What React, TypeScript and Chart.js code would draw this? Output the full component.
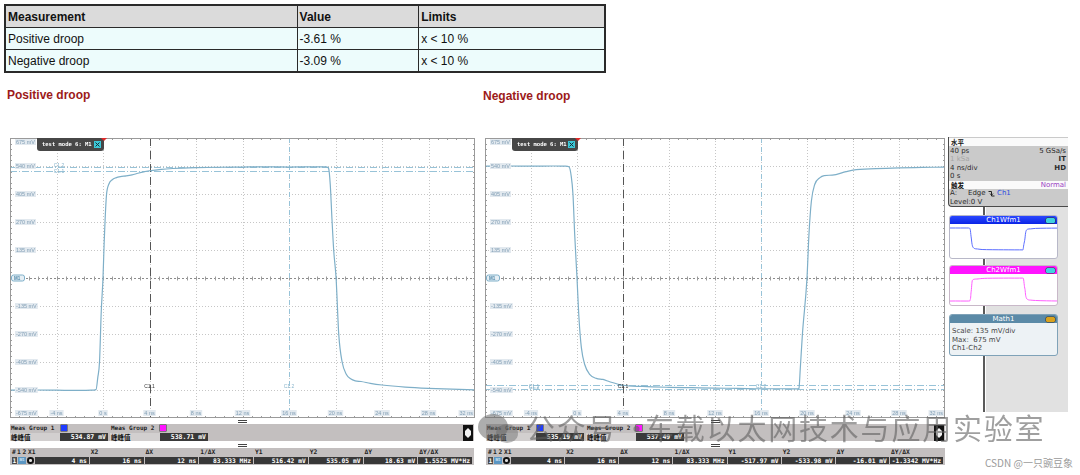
import React, { useEffect, useRef } from 'react';
import { Chart, registerables } from 'chart.js';

Chart.register(...registerables);

// ---------------- table data ----------------
const tableHeaders = ['Measurement', 'Value', 'Limits'];
const measurementNames = ['Positive droop', 'Negative droop'];
const measurementValues = ['-3.61 %', '-3.09 %'];
const measurementLimits = ['x < 10 %', 'x < 10 %'];

// ---------------- scope axes ----------------
const timeGridNs = [-8, -4, 0, 4, 8, 12, 16, 20, 24, 28, 32];
const timeTickLabels = ['', '-4 ns', '0 s', '4 ns', '8 ns', '12 ns', '16 ns', '20 ns', '24 ns', '28 ns', '32 ns'];
const voltGridMv = [675, 540, 405, 270, 135, 0, -135, -270, -405, -540, -675];
const voltTickLabels = ['675 mV', '540 mV', '405 mV', '270 mV', '135 mV', '', '-135 mV', '-270 mV', '-405 mV', '-540 mV', '-675 mV'];

// ---------------- positive droop trace ----------------
const posTimeNs = [-8, -6, -4, -2, -1, -0.6, -0.45, -0.3, -0.15, 0, 0.1, 0.18, 0.3, 0.5, 0.8, 1.1, 1.5, 2.0, 2.5, 3.0, 3.5, 4.0, 5, 6, 8, 10, 12, 14, 16, 18, 19.2, 19.4, 19.55, 19.7, 19.85, 20.05, 20.28, 20.57, 20.94, 21.3, 21.7, 22.2, 23, 24, 26, 28, 30, 32];
const posVoltMv = [-541, -540, -541, -542, -541, -538, -480, -405, -160, 0, 170, 280, 400, 452, 474, 483, 489, 492, 497, 505, 512, 517, 524, 528, 532, 534, 535, 536, 535, 536, 536, 530, 450, 280, 130, 0, -272, -405, -465, -486, -496, -499, -508, -516, -526, -532, -536, -539];

// ---------------- negative droop trace ----------------
const negTimeNs = [-8, -6, -4, -2, -1, -0.7, -0.5, -0.35, -0.2, 0, 0.17, 0.38, 0.67, 1.1, 1.68, 2.26, 2.84, 4.0, 5.7, 8, 10, 12, 14, 16, 18, 19.2, 19.3, 19.42, 19.6, 20.0, 20.17, 20.38, 20.67, 21.1, 21.5, 22.2, 23.4, 24, 26, 28, 30, 32];
const negVoltMv = [539, 540, 539, 540, 539, 536, 490, 403, 210, 0, -192, -336, -417, -465, -484, -489, -500, -517, -523, -527, -529, -531, -532, -534, -534, -535, -532, -433, -272, 0, 210, 370, 451, 483, 494, 496, 513, 520, 527, 531, 533, 535];

// ---------------- cursors ----------------
const cursorXNs = [4, 16];
const posCursorYMv = [516.42, 535.05];
const negCursorYMv = [-517.97, -533.98];

// ---------------- measurement bars ----------------
const measGroupNames = ['Meas Group 1', 'Meas Group 2'];
const measTypeLabels = ['峰峰值', '峰峰值'];
const posMeasValues = ['534.87 mV', '538.71 mV'];
const negMeasValues = ['535.19 mV', '537.49 mV'];
const cursorHeaders = ['X1', 'X2', 'ΔX', '1/ΔX', 'Y1', 'Y2', 'ΔY', 'ΔY/ΔX'];
const posCursorValues = ['4 ns', '16 ns', '12 ns', '83.333 MHz', '516.42 mV', '535.05 mV', '18.63 mV', '1.5525 MV*Hz'];
const negCursorValues = ['4 ns', '16 ns', '12 ns', '83.333 MHz', '-517.97 mV', '-533.98 mV', '-16.01 mV', '-1.3342 MV*Hz'];

const TRACE = '#7eafc8';
const LABEL_FONT = '"Liberation Sans", Arial, sans-serif';

function scopePlugin(cursorYMv: number[]) {
  return {
    id: 'scopeDecor',
    beforeDatasetsDraw(chart: any) {
      const { ctx, chartArea: a, scales } = chart;
      const xs = scales.x;
      const ys = scales.y;
      const X = (t: number) => Math.round(xs.getPixelForValue(t)) + 0.5;
      const Y = (v: number) => Math.round(ys.getPixelForValue(v)) + 0.5;
      const line = (x1: number, y1: number, x2: number, y2: number) => {
        ctx.beginPath();
        ctx.moveTo(x1, y1);
        ctx.lineTo(x2, y2);
        ctx.stroke();
      };
      ctx.save();
      ctx.lineWidth = 1;
      ctx.setLineDash([1, 2]);
      ctx.strokeStyle = '#c6c6c6';
      timeGridNs.forEach((t) => {
        if (t === timeGridNs[0] || t === timeGridNs[timeGridNs.length - 1]) return;
        line(X(t), a.top, X(t), a.bottom);
      });
      voltGridMv.forEach((v) => {
        if (v === 0 || v === voltGridMv[0] || v === voltGridMv[voltGridMv.length - 1]) return;
        line(a.left, Y(v), a.right, Y(v));
      });
      ctx.strokeStyle = '#8c8c8c';
      ctx.setLineDash([2, 2]);
      line(a.left, Y(0), a.right, Y(0));
      ctx.setLineDash([]);
      ctx.strokeStyle = '#9c9c9c';
      const y0 = Y(0);
      for (let i = 0; i <= 50; i++) {
        const px = X(-8 + i * 0.8);
        line(px, a.top, px, a.top + 2);
        line(px, a.bottom - 2, px, a.bottom);
        line(px, y0 - 2, px, y0 + 2);
      }
      for (let j = 0; j <= 50; j++) {
        const py = Y(-675 + j * 27);
        line(a.left, py, a.left + 2, py);
        line(a.right - 2, py, a.right, py);
      }
      ctx.strokeStyle = '#98c3d8';
      ctx.setLineDash([7, 2, 1, 2]);
      cursorYMv.forEach((v) => line(a.left, Y(v), a.right, Y(v)));
      ctx.setLineDash([5, 4]);
      line(X(cursorXNs[1]), a.top, X(cursorXNs[1]), a.bottom);
      ctx.strokeStyle = '#555555';
      ctx.setLineDash([8, 5]);
      line(X(cursorXNs[0]), a.top, X(cursorXNs[0]), a.bottom);
      ctx.restore();
    },
    afterDatasetsDraw(chart: any) {
      const { ctx, chartArea: a, scales } = chart;
      const xs = scales.x;
      const ys = scales.y;
      ctx.save();
      ctx.strokeStyle = '#9a9a9a';
      ctx.lineWidth = 1;
      ctx.strokeRect(a.left + 0.5, a.top + 0.5, a.right - a.left - 1, a.bottom - a.top - 1);

      ctx.font = `5.5px ${LABEL_FONT}`;
      ctx.textBaseline = 'middle';
      ctx.textAlign = 'left';
      voltGridMv.forEach((v, i) => {
        const lab = voltTickLabels[i];
        if (!lab) return;
        let py = ys.getPixelForValue(v);
        py = Math.min(Math.max(py, a.top + 4), a.bottom - 5);
        const w = ctx.measureText(lab).width;
        const lx = a.left + 6;
        ctx.fillStyle = '#e2e9ef';
        ctx.fillRect(lx - 1, py - 3, w + 2, 6);
        ctx.fillStyle = '#84a0b6';
        ctx.fillText(lab, lx, py);
      });
      timeGridNs.forEach((t, i) => {
        const lab = timeTickLabels[i];
        if (!lab) return;
        const w = ctx.measureText(lab).width;
        const py = a.bottom - 5;
        let lx = xs.getPixelForValue(t) - w / 2;
        if (lx + w > a.right - 2) lx = a.right - 2 - w;
        ctx.fillStyle = '#e2e9ef';
        ctx.fillRect(lx - 1, py - 3, w + 2, 6);
        ctx.fillStyle = '#84a0b6';
        ctx.fillText(lab, lx, py);
      });

      const y0 = ys.getPixelForValue(0);
      ctx.fillStyle = '#e6eff5';
      ctx.strokeStyle = TRACE;
      ctx.beginPath();
      ctx.roundRect(a.left + 1.5, y0 - 3, 13, 6, 2);
      ctx.fill();
      ctx.stroke();
      ctx.fillStyle = '#4c86a8';
      ctx.font = `bold 4.5px ${LABEL_FONT}`;
      ctx.fillText('M1', a.left + 4, y0 + 0.3);

      ctx.font = `5px ${LABEL_FONT}`;
      ctx.textAlign = 'center';
      const cy = a.bottom - 31;
      ctx.fillStyle = '#333333';
      ctx.fillText('C1.1', xs.getPixelForValue(cursorXNs[0]), cy);
      ctx.fillStyle = '#8bb6cc';
      ctx.fillText('C1.2', xs.getPixelForValue(cursorXNs[1]), cy);
      ctx.fillText('C1.1', a.left + 49, ys.getPixelForValue(cursorYMv[0]) + 1);
      ctx.fillText('C1.2', a.left + 49, ys.getPixelForValue(cursorYMv[1]) - 1);

      const x0 = xs.getPixelForValue(0);
      const tabL = a.left + 27;
      const tabR = x0 + 1;
      const tabT = a.top;
      ctx.fillStyle = '#474747';
      ctx.beginPath();
      ctx.roundRect(tabL, tabT, tabR - tabL, 13, [0, 0, 3, 3]);
      ctx.fill();
      ctx.fillStyle = '#ffffff';
      ctx.textAlign = 'left';
      ctx.font = 'bold 5.5px "DejaVu Sans Mono", monospace';
      ctx.fillText('test mode 6: M1', tabL + 5, tabT + 6.5);
      ctx.fillStyle = '#3cc8d8';
      ctx.fillRect(tabR - 10, tabT + 3, 7, 7);
      ctx.strokeStyle = '#15303a';
      ctx.lineWidth = 1;
      ctx.beginPath();
      ctx.moveTo(tabR - 8.5, tabT + 4.5);
      ctx.lineTo(tabR - 4.5, tabT + 8.5);
      ctx.moveTo(tabR - 4.5, tabT + 4.5);
      ctx.lineTo(tabR - 8.5, tabT + 8.5);
      ctx.stroke();
      ctx.fillStyle = '#e02a2a';
      ctx.beginPath();
      ctx.moveTo(x0 - 2, a.top);
      ctx.lineTo(x0 + 4, a.top);
      ctx.lineTo(x0 + 1, a.top + 3);
      ctx.closePath();
      ctx.fill();
      ctx.restore();
    },
  };
}

type ScopeProps = {
  left: number;
  top: number;
  width: number;
  height: number;
  times: number[];
  values: number[];
  cursorY: number[];
};

function ScopeChart({ left, top, width, height, times, values, cursorY }: ScopeProps) {
  const ref = useRef<HTMLCanvasElement>(null);
  useEffect(() => {
    const chart = new Chart(ref.current as HTMLCanvasElement, {
      type: 'line',
      data: {
        datasets: [
          {
            data: times.map((t, i) => ({ x: t, y: values[i] })),
            borderColor: TRACE,
            borderWidth: 1.2,
            pointRadius: 0,
            cubicInterpolationMode: 'monotone',
            fill: false,
          },
        ],
      },
      options: {
        responsive: false,
        animation: false,
        events: [],
        layout: { padding: 0 },
        plugins: { legend: { display: false }, tooltip: { enabled: false } },
        scales: {
          x: { type: 'linear', min: -8, max: 32, display: false },
          y: { type: 'linear', min: -675, max: 675, display: false },
        },
      },
      plugins: [scopePlugin(cursorY)],
    } as any);
    return () => chart.destroy();
  }, []);
  return <canvas ref={ref} width={width} height={height} style={{ position: 'absolute', left, top, width, height }} />;
}

function ThumbChart({ left, top, width, height, times, values, color, yMin, yMax }: any) {
  const ref = useRef<HTMLCanvasElement>(null);
  useEffect(() => {
    const chart = new Chart(ref.current as HTMLCanvasElement, {
      type: 'line',
      data: {
        datasets: [
          {
            data: times.map((t: number, i: number) => ({ x: t, y: values[i] })),
            borderColor: color,
            borderWidth: 1,
            pointRadius: 0,
            cubicInterpolationMode: 'monotone',
          },
        ],
      },
      options: {
        responsive: false,
        animation: false,
        events: [],
        layout: { padding: 0 },
        plugins: { legend: { display: false }, tooltip: { enabled: false } },
        scales: {
          x: { type: 'linear', min: -8, max: 32, display: false },
          y: { type: 'linear', min: yMin, max: yMax, display: false },
        },
      },
    } as any);
    return () => chart.destroy();
  }, []);
  return <canvas ref={ref} width={width} height={height} style={{ position: 'absolute', left, top, width, height }} />;
}

const abs = (s: React.CSSProperties): React.CSSProperties => ({ position: 'absolute', whiteSpace: 'nowrap', ...s });

function Handle({ cx, top }: { cx: number; top: number }) {
  return (
    <>
      <div style={abs({ left: cx - 4, top, width: 9, height: 1, background: '#444' })} />
      <div style={abs({ left: cx - 4, top: top + 2, width: 9, height: 1, background: '#444' })} />
    </>
  );
}

function MeasBar({ left, width, values }: { left: number; width: number; values: string[] }) {
  const sq = ['#1f3cff', '#ff14ff'];
  return (
    <div style={abs({ left, top: 424, width, height: 17, background: '#c3bfbf' })}>
      {values.map((v, i) => (
        <React.Fragment key={i}>
          <div style={abs({ left: 1 + i * 100, top: 0, font: 'bold 6px "DejaVu Sans Mono", monospace', color: '#1e1e1e', lineHeight: '8px' })}>
            {measGroupNames[i]}
          </div>
          <div style={abs({ left: 51 + i * 99, top: 1, width: 6, height: 6, background: sq[i], boxShadow: '0 0 0 0.5px #333' })} />
          <div style={abs({ left: i * 100, top: 9, width: 50, height: 8, background: '#d2cfcf' })} />
          <div style={abs({ left: 1 + i * 100, top: 9, font: 'bold 6.5px "Noto Sans CJK SC", sans-serif', color: '#111', lineHeight: '8px' })}>
            {measTypeLabels[i]}
          </div>
          <div
            style={abs({
              left: 50 + i * 100,
              top: 9,
              width: 48,
              height: 8,
              background: '#3a3a3a',
              color: '#fff',
              font: 'bold 6.5px "DejaVu Sans Mono", monospace',
              lineHeight: '8px',
              textAlign: 'right',
              paddingRight: 2,
              boxSizing: 'border-box',
            })}
          >
            {v}
          </div>
        </React.Fragment>
      ))}
      <div style={abs({ left: width - 11, top: 1, width: 10, height: 16, background: '#111' })}>
        <div style={abs({ left: 2, top: 3, width: 6, height: 10, background: '#f2f2f2', borderRadius: 2, clipPath: 'polygon(50% 0,100% 30%,100% 70%,50% 100%,0 70%,0 30%)' })} />
      </div>
    </div>
  );
}

function CursorTable({ left, width, values }: { left: number; width: number; values: string[] }) {
  const start = 25;
  const cw = (width - start - 1) / 8;
  const hdrFont = 'bold 6.3px "DejaVu Sans Mono", monospace';
  return (
    <div style={abs({ left, top: 448, width, height: 17, background: '#c3bfbf' })}>
      <div style={abs({ left: 2, top: 0, font: hdrFont, lineHeight: '8px', color: '#222' })}>#</div>
      <div style={abs({ left: 7, top: 0, font: hdrFont, lineHeight: '8px', color: '#222' })}>1</div>
      <div style={abs({ left: 12.5, top: 0, font: hdrFont, lineHeight: '8px', color: '#222' })}>2</div>
      {cursorHeaders.map((h, i) => (
        <div key={h} style={abs({ left: i === 0 ? 18 : start + i * cw + 1, top: 0, font: hdrFont, lineHeight: '8px', color: '#222' })}>
          {h}
        </div>
      ))}
      <div style={abs({ left: 2, top: 8.5, width: 5, height: 7.5, background: '#4a4a4a', color: '#fff', font: hdrFont, lineHeight: '7.5px', textAlign: 'center' })}>1</div>
      <div style={abs({ left: 8, top: 8.5, width: 8, height: 7.5, background: '#5b96c2', color: '#d8ecf8', font: 'bold 3.5px sans-serif', lineHeight: '7.5px', textAlign: 'center' })}>M1</div>
      <div style={abs({ left: 17, top: 9, width: 6.5, height: 6.5, background: '#111', borderRadius: '50%' })}>
        <div style={abs({ left: 2, top: 2, width: 2.5, height: 2.5, background: '#ddd', borderRadius: '50%' })} />
      </div>
      {values.map((v, i) => (
        <div
          key={i}
          style={abs({
            left: start + i * cw,
            top: 8.5,
            width: cw - 1,
            height: 7.5,
            background: '#383838',
            color: '#fff',
            font: 'bold 6.3px "DejaVu Sans Mono", monospace',
            lineHeight: '7.5px',
            textAlign: 'right',
            paddingRight: 2,
            boxSizing: 'border-box',
          })}
        >
          {v}
        </div>
      ))}
    </div>
  );
}

function WfmBox({ top, height, title, headerBg, iconBg, bodyBg, border, children }: any) {
  return (
    <div style={abs({ left: 949, top, width: 109, height, background: bodyBg, border: `1px solid ${border}`, borderRadius: 3, boxSizing: 'border-box', overflow: 'hidden' })}>
      <div style={abs({ left: 0, top: 0, width: 107, height: 8, background: headerBg, color: '#fff', font: '7px "DejaVu Sans", sans-serif', lineHeight: '8px', textAlign: 'center' })}>
        {title}
      </div>
      <div style={abs({ left: 96, top: 1.5, width: 9, height: 5, background: iconBg, borderRadius: 1.5, boxShadow: '0 0 0 0.5px #333' })} />
      {children}
    </div>
  );
}

function EdgeIcon() {
  return (
    <svg width="7" height="7" style={{ position: 'absolute', left: 988, top: 190 }}>
      <path d="M0.5 1.5 H3.5 V6 H6.5" stroke="#222" strokeWidth="1" fill="none" />
      <path d="M2 3.5 L3.5 5.5 L5 3.5" stroke="#222" strokeWidth="0.8" fill="none" />
    </svg>
  );
}

export default function App() {
  const cell: React.CSSProperties = { border: '1px solid #2a2a2a', padding: '0 2px', height: 21, textAlign: 'left', verticalAlign: 'middle' };
  const pf: React.CSSProperties = { font: '7px "DejaVu Sans", sans-serif', color: '#2a2a2a', lineHeight: '8px' };
  const wm: React.CSSProperties = { font: '29px "Noto Sans CJK SC", sans-serif', lineHeight: '32px', color: 'rgba(95,95,95,0.6)', letterSpacing: 1.8 };
  return (
    <div style={{ position: 'absolute', left: 0, top: 0, width: 1080, height: 475, background: '#fff', overflow: 'hidden', fontFamily: LABEL_FONT }}>
      <table style={{ position: 'absolute', left: 4, top: 4, width: 602, borderCollapse: 'collapse', font: `12px ${LABEL_FONT}`, border: '2px solid #2a2a2a', color: '#111' }}>
        <colgroup>
          <col style={{ width: 293 }} />
          <col style={{ width: 122 }} />
          <col style={{ width: 187 }} />
        </colgroup>
        <thead>
          <tr style={{ background: '#dbdbdb' }}>
            {tableHeaders.map((h) => (
              <th key={h} style={{ ...cell, fontWeight: 'bold' }}>{h}</th>
            ))}
          </tr>
        </thead>
        <tbody>
          {measurementNames.map((n, i) => (
            <tr key={n} style={{ background: '#edfcfc' }}>
              <td style={cell}>{n}</td>
              <td style={cell}>{measurementValues[i]}</td>
              <td style={cell}>{measurementLimits[i]}</td>
            </tr>
          ))}
        </tbody>
      </table>

      <div style={abs({ left: 7, top: 88, font: `bold 12px ${LABEL_FONT}`, color: '#9c1a1a' })}>Positive droop</div>
      <div style={abs({ left: 483, top: 89, font: `bold 12px ${LABEL_FONT}`, color: '#9c1a1a' })}>Negative droop</div>

      <ScopeChart left={10} top={138} width={465} height={280} times={posTimeNs} values={posVoltMv} cursorY={posCursorYMv} />
      <ScopeChart left={485} top={138} width={460} height={280} times={negTimeNs} values={negVoltMv} cursorY={negCursorYMv} />

      <Handle cx={242} top={419.5} />
      <Handle cx={715} top={419.5} />
      <MeasBar left={10} width={464} values={posMeasValues} />
      <MeasBar left={486} width={459} values={negMeasValues} />
      <Handle cx={242} top={443.5} />
      <Handle cx={715} top={443.5} />
      <CursorTable left={10} width={464} values={posCursorValues} />
      <CursorTable left={486} width={459} values={negCursorValues} />

      <div style={abs({ left: 986, top: 207, width: 82, height: 205, background: '#e1e1e1' })} />
      <div style={abs({ left: 983, top: 206, width: 2, height: 206, background: '#5a5a5a' })} />
      <div style={abs({ left: 948, top: 137, width: 120, height: 70, background: '#cacaca', borderLeft: '1px solid #4a4a4a', borderBottom: '1px solid #4a4a4a', borderBottomLeftRadius: 4, boxSizing: 'border-box' })}>
        <div style={abs({ left: 0, top: 1, width: 119, height: 8, background: '#fafafa' })} />
        <div style={abs({ ...pf, left: 2, top: 1, font: 'bold 6.5px "Noto Sans CJK SC", sans-serif', color: '#111' })}>水平</div>
        <div style={abs({ ...pf, left: 1, top: 10 })}>40 ps</div>
        <div style={abs({ ...pf, right: 2, top: 10 })}>5 GSa/s</div>
        <div style={abs({ ...pf, left: 1, top: 18, color: '#a6a6a6' })}>1 kSa</div>
        <div style={abs({ ...pf, right: 2, top: 18, fontWeight: 'bold' })}>IT</div>
        <div style={abs({ ...pf, left: 1, top: 26.5 })}>4 ns/div</div>
        <div style={abs({ ...pf, right: 2, top: 26.5, fontWeight: 'bold' })}>HD</div>
        <div style={abs({ ...pf, left: 1, top: 35 })}>0 s</div>
        <div style={abs({ left: 0, top: 43.5, width: 119, height: 8, background: '#fafafa' })} />
        <div style={abs({ ...pf, left: 2, top: 43.5, font: 'bold 6.5px "Noto Sans CJK SC", sans-serif', color: '#111' })}>触发</div>
        <div style={abs({ ...pf, right: 2, top: 43.5, color: '#9b3fc4' })}>Normal</div>
        <div style={abs({ ...pf, left: 1, top: 52 })}>A:</div>
        <div style={abs({ ...pf, left: 19, top: 52 })}>Edge</div>
        <div style={abs({ ...pf, left: 48, top: 52, color: '#2a4ce0' })}>Ch1</div>
        <div style={abs({ ...pf, left: 1, top: 60.5 })}>Level:0 V</div>
      </div>
      <EdgeIcon />

      <WfmBox top={215} height={44} title="Ch1Wfm1" headerBg="linear-gradient(#2a48ff,#0a24e6)" iconBg="#40d2e2" bodyBg="#ffffff" border="#b8b8c8" />
      <ThumbChart left={950} top={223} width={107} height={35} times={negTimeNs} values={negVoltMv} color="#5a6cff" yMin={-933} yMax={785} />
      <WfmBox top={265} height={41} title="Ch2Wfm1" headerBg="#ff14ff" iconBg="#40d2e2" bodyBg="#ffffff" border="#c8b8c8" />
      <ThumbChart left={950} top={273} width={107} height={32} times={posTimeNs} values={posVoltMv} color="#ff5cff" yMin={-728} yMax={775} />
      <WfmBox top={314} height={42} title="Math1" headerBg="#5b8aa7" iconBg="#d9a21e" bodyBg="#edf2f5" border="#7fa2b8">
        <div style={abs({ ...pf, left: 2, top: 12, color: '#444' })}>Scale: 135 mV/div</div>
        <div style={abs({ ...pf, left: 2, top: 20.5, color: '#444' })}>Max:&nbsp;&nbsp;675 mV</div>
        <div style={abs({ ...pf, left: 2, top: 29, color: '#444' })}>Ch1-Ch2</div>
      </WfmBox>

      <div style={abs({ left: 478, top: 414, width: 30, height: 26, borderRadius: '50%', background: 'rgba(105,105,105,0.55)' })} />
      <div style={abs({ left: 496, top: 424, width: 22, height: 19, borderRadius: '50%', background: 'rgba(105,105,105,0.45)' })} />
      <div style={abs({ ...wm, left: 526, top: 411 })}>公众号</div>
      <div style={abs({ ...wm, left: 622, top: 411 })}>·</div>
      <div style={abs({ ...wm, left: 645, top: 411 })}>车载以太网技术与应用实验室</div>
      <div style={abs({ left: 985, top: 456, font: '10px "Noto Sans CJK SC", sans-serif', lineHeight: '13px', color: '#9a9a9a' })}>CSDN @一只豌豆象</div>
    </div>
  );
}
